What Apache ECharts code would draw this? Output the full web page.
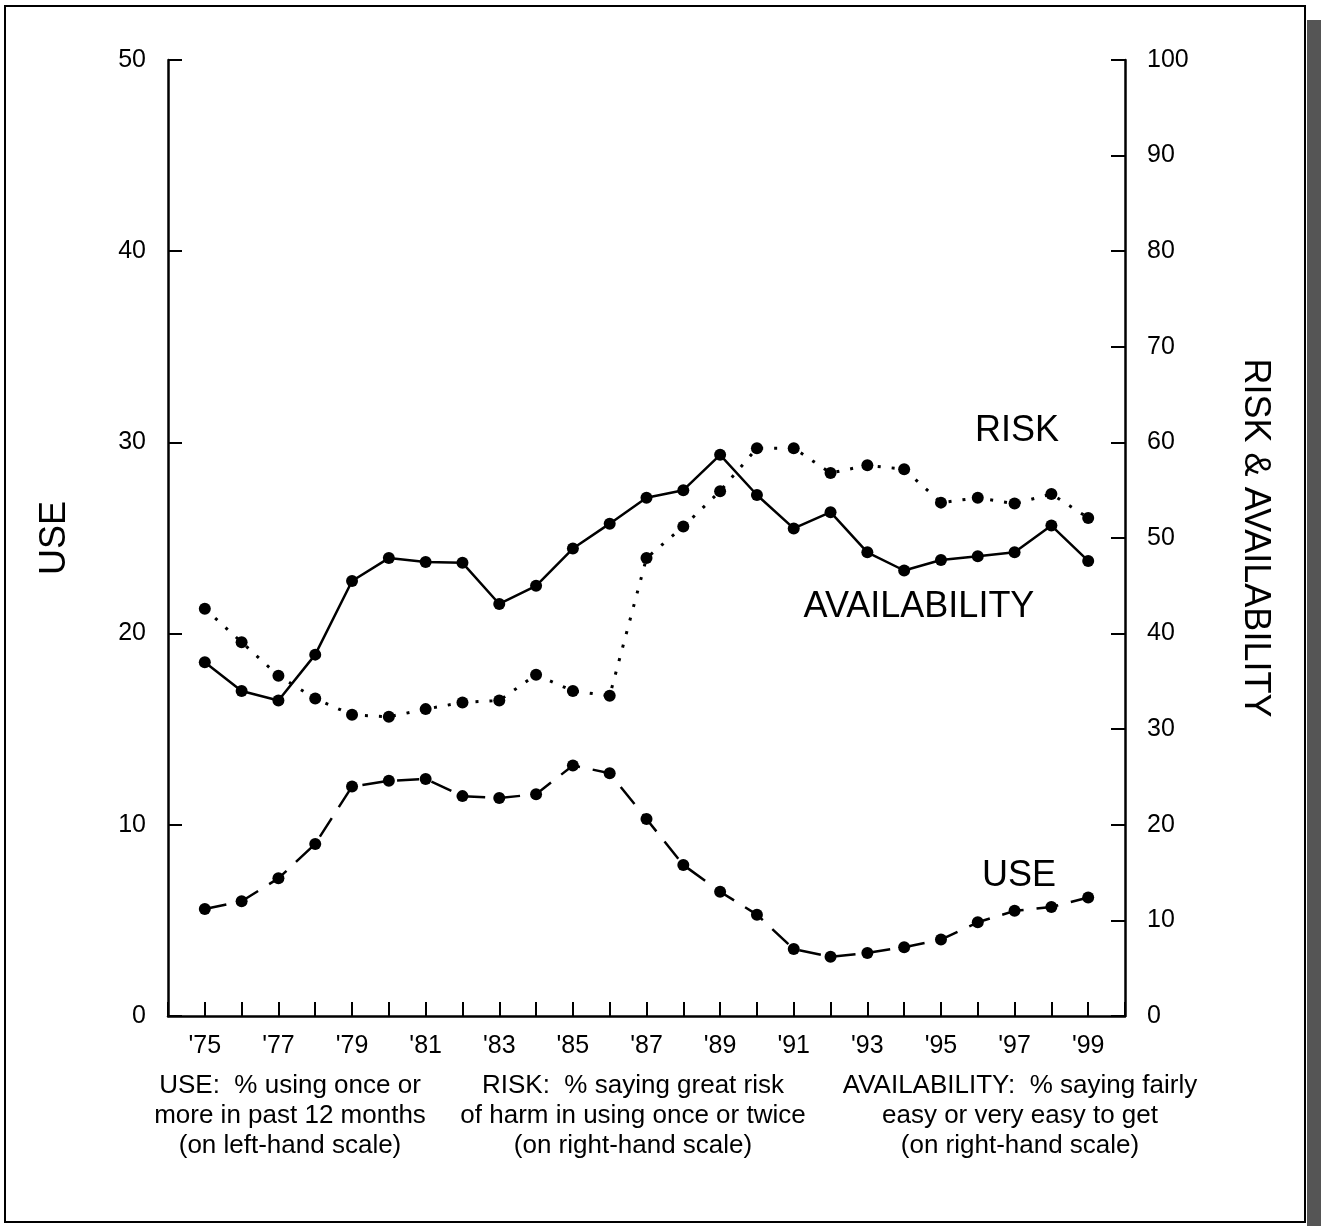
<!DOCTYPE html>
<html>
<head>
<meta charset="utf-8">
<script src="https://cdn.jsdelivr.net/npm/echarts@6/dist/echarts.min.js"></script>
<style>
  html, body { margin: 0; padding: 0; background: #fff; }
  #chart { width: 1326px; height: 1226px; }
</style>
</head>
<body>
<div id="chart"></div>
<script>
var years = [1975, 1976, 1977, 1978, 1979, 1980, 1981, 1982, 1983, 1984, 1985, 1986, 1987,
             1988, 1989, 1990, 1991, 1992, 1993, 1994, 1995, 1996, 1997, 1998, 1999];
// left-hand scale
var useValues = [5.6, 6.0, 7.2, 9.0, 12.0, 12.3, 12.4, 11.5, 11.4, 11.6, 13.1, 12.7, 10.3,
                 7.9, 6.5, 5.3, 3.5, 3.1, 3.3, 3.6, 4.0, 4.9, 5.5, 5.7, 6.2];
// right-hand scale
var riskValues = [42.6, 39.1, 35.6, 33.2, 31.5, 31.3, 32.1, 32.8, 33.0, 35.7, 34.0, 33.5, 47.9,
                  51.2, 54.9, 59.4, 59.4, 56.8, 57.6, 57.2, 53.7, 54.2, 53.6, 54.6, 52.1];
var availValues = [37.0, 34.0, 33.0, 37.8, 45.5, 47.9, 47.5, 47.4, 43.1, 45.0, 48.9, 51.5, 54.2,
                   55.0, 58.7, 54.5, 51.0, 52.7, 48.5, 46.6, 47.7, 48.1, 48.5, 51.3, 47.6];
var captions = [
  ['USE:  % using once or', 'more in past 12 months', '(on left-hand scale)'],
  ['RISK:  % saying great risk', 'of harm in using once or twice', '(on right-hand scale)'],
  ['AVAILABILITY:  % saying fairly', 'easy or very easy to get', '(on right-hand scale)']
];

var FONT = '"Liberation Sans", Arial, sans-serif';

function pairs(vals) {
  return years.map(function (y, i) { return [y, vals[i]]; });
}

var chart = echarts.init(document.getElementById('chart'));

var captionX = [290, 633, 1020];
var graphics = [
  // outer frame
  { type: 'rect', shape: { x: 5, y: 6, width: 1300, height: 1216 },
    style: { fill: null, stroke: '#000', lineWidth: 2 } },
  // dark strip at the right edge
  { type: 'rect', shape: { x: 1307, y: 20, width: 14, height: 1206 },
    style: { fill: '#555', stroke: null } },
  { type: 'text', x: 1017, y: 431, style: { text: 'RISK', font: '36px ' + FONT, fill: '#000', textAlign: 'center', textVerticalAlign: 'middle' } },
  { type: 'text', x: 919, y: 607, style: { text: 'AVAILABILITY', font: '36px ' + FONT, fill: '#000', textAlign: 'center', textVerticalAlign: 'middle' } },
  { type: 'text', x: 1019, y: 876, style: { text: 'USE', font: '36px ' + FONT, fill: '#000', textAlign: 'center', textVerticalAlign: 'middle' } }
];
captions.forEach(function (lines, c) {
  lines.forEach(function (t, r) {
    graphics.push({ type: 'text', x: captionX[c], y: 1086 + r * 30,
      style: { text: t, font: '26px ' + FONT, fill: '#000', textAlign: 'center', textVerticalAlign: 'middle' } });
  });
});

var option = {
  backgroundColor: '#fff',
  animation: false,
  grid: { left: 168, right: 201, top: 60, bottom: 210 },
  xAxis: {
    type: 'value', min: 1974, max: 2000, interval: 1,
    axisLine: { lineStyle: { color: '#000', width: 2.5 } },
    axisTick: { inside: true, length: 14, lineStyle: { color: '#000', width: 2 } },
    splitLine: { show: false },
    axisLabel: {
      color: '#000', fontSize: 25, fontFamily: FONT, margin: 18,
      formatter: function (v) {
        if (v >= 1975 && v <= 1999 && v % 2 === 1) return '\'' + String(v).slice(2);
        return '';
      }
    }
  },
  yAxis: [
    {
      type: 'value', min: 0, max: 50, interval: 10, position: 'left',
      name: 'USE', nameLocation: 'middle', nameGap: 95, nameRotate: 90,
      nameTextStyle: { color: '#000', fontSize: 36, fontFamily: FONT },
      axisLine: { show: true, lineStyle: { color: '#000', width: 2.5 } },
      axisTick: { show: true, inside: true, length: 14, lineStyle: { color: '#000', width: 2 } },
      splitLine: { show: false },
      axisLabel: { color: '#000', fontSize: 25, fontFamily: FONT, margin: 22 }
    },
    {
      type: 'value', min: 0, max: 100, interval: 10, position: 'right',
      name: 'RISK & AVAILABILITY', nameLocation: 'middle', nameGap: 112, nameRotate: -90,
      nameTextStyle: { color: '#000', fontSize: 36, fontFamily: FONT },
      axisLine: { show: true, lineStyle: { color: '#000', width: 2.5 } },
      axisTick: { show: true, inside: true, length: 14, lineStyle: { color: '#000', width: 2 } },
      splitLine: { show: false },
      axisLabel: { color: '#000', fontSize: 25, fontFamily: FONT, margin: 22 }
    }
  ],
  series: [
    {
      name: 'USE', type: 'line', yAxisIndex: 0, data: pairs(useValues),
      symbol: 'circle', symbolSize: 12, itemStyle: { color: '#000' },
      lineStyle: { color: '#000', width: 2.5, type: [22, 13] }
    },
    {
      name: 'RISK', type: 'line', yAxisIndex: 1, data: pairs(riskValues),
      symbol: 'circle', symbolSize: 12, itemStyle: { color: '#000' },
      lineStyle: { color: '#000', width: 3, type: [3, 11] }
    },
    {
      name: 'AVAILABILITY', type: 'line', yAxisIndex: 1, data: pairs(availValues),
      symbol: 'circle', symbolSize: 12, itemStyle: { color: '#000' },
      lineStyle: { color: '#000', width: 2.5 }
    }
  ],
  graphic: graphics
};

chart.setOption(option);
</script>
</body>
</html>
